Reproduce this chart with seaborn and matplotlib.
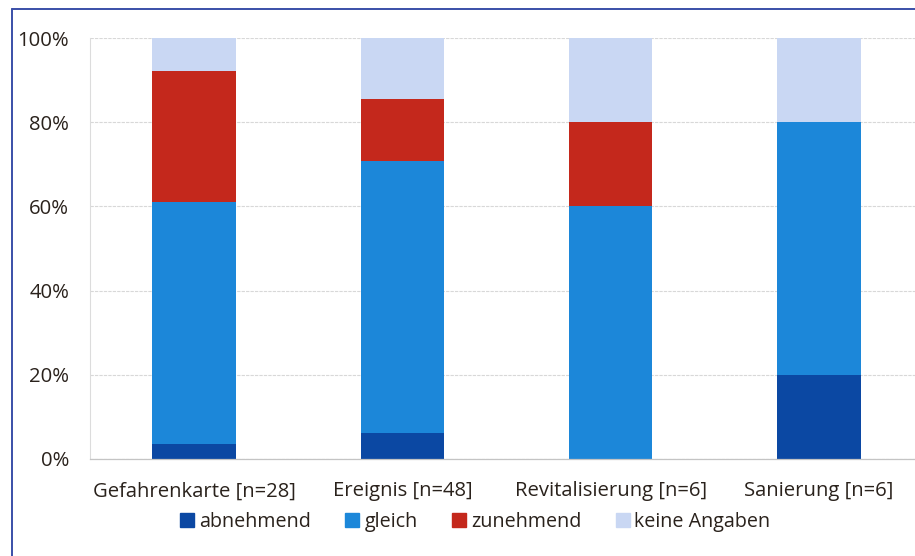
import numpy as np
import pandas as pd
import seaborn as sns
from matplotlib import pyplot as plt
from matplotlib.lines import Line2D
from matplotlib.ticker import PercentFormatter, FixedLocator

CATEGORIES = [
    "Gefahrenkarte [n=28]",
    "Ereignis [n=48]",
    "Revitalisierung [n=6]",
    "Sanierung [n=6]",
]
SERIES = ["abnehmend", "gleich", "zunehmend", "keine Angaben"]
ABNEHMEND = [3.6, 6.2, 0.0, 20.0]
GLEICH = [57.5, 64.6, 60.0, 60.0]
ZUNEHMEND = [31.0, 14.6, 20.0, 0.0]
KEINE_ANGABEN = [7.9, 14.6, 20.0, 20.0]
COLORS = ["#0b48a3", "#1c87d9", "#c4281c", "#c9d7f3"]


def main():
    sns.set_theme(style="white")
    plt.rcParams["font.family"] = ["Open Sans", "DejaVu Sans"]
    text_color = "#2a221c"

    df = pd.DataFrame(
        {
            "kategorie": CATEGORIES,
            "abnehmend": ABNEHMEND,
            "gleich": GLEICH,
            "zunehmend": ZUNEHMEND,
            "keine Angaben": KEINE_ANGABEN,
        }
    )

    fig = plt.figure(figsize=(9.15, 5.56), dpi=100)
    ax = fig.add_axes([90 / 915, 97 / 556, 825 / 915, 421 / 556])

    bottom = np.zeros(len(df))
    for name, color in zip(SERIES, COLORS):
        sns.barplot(
            data=df,
            x="kategorie",
            y=name,
            color=color,
            width=0.4,
            bottom=bottom,
            saturation=1,
            ax=ax,
            linewidth=0,
        )
        bottom = bottom + df[name].to_numpy()

    ax.set_xlim(-0.5, (915 - 195) / 208)
    ax.set_ylim(0, 100)
    ax.yaxis.set_major_locator(FixedLocator([0, 20, 40, 60, 80, 100]))
    ax.yaxis.set_major_formatter(PercentFormatter(decimals=0))
    ax.grid(axis="y", color="#d8d8d8", linewidth=0.8, linestyle=(0, (3, 1)))
    ax.set_axisbelow(True)
    ax.set_xlabel("")
    ax.set_ylabel("")

    for side in ["top", "right"]:
        ax.spines[side].set_visible(False)
    ax.spines["left"].set_color("#dcdcdc")
    ax.spines["left"].set_linewidth(0.8)
    ax.spines["bottom"].set_color("#c4c4c4")
    ax.spines["bottom"].set_linewidth(0.9)

    ax.tick_params(axis="x", which="major", length=0, pad=16, labelsize=14.6,
                   labelcolor=text_color)
    ax.set_xticks([-0.5, 0.5, 1.5, 2.5], minor=True)
    ax.tick_params(axis="x", which="minor", length=6, color="#d4d4d4", width=0.8)
    ax.tick_params(axis="y", length=5, color="#d4d4d4", width=0.8, pad=10,
                   labelsize=14.6, labelcolor=text_color)

    handles = [
        Line2D([], [], marker="s", linestyle="", markersize=10,
               markerfacecolor=c, markeredgecolor=c)
        for c in COLORS
    ]
    fig.legend(
        handles,
        SERIES,
        loc="center",
        bbox_to_anchor=(474 / 915, 1 - 522 / 556),
        ncol=4,
        frameon=False,
        fontsize=14.2,
        labelcolor=text_color,
        handletextpad=0.1,
        columnspacing=1.6,
        handlelength=1.0,
    )

    # blue frame of the original chart (cropped at right and bottom)
    fig.add_artist(Line2D([12 / 915, 12 / 915], [0, 1 - 9 / 556],
                          transform=fig.transFigure, color="#3a4fa8", linewidth=1.4))
    fig.add_artist(Line2D([12 / 915, 1], [1 - 9 / 556, 1 - 9 / 556],
                          transform=fig.transFigure, color="#3a4fa8", linewidth=1.4))

    fig.savefig("out.png", dpi=100)


if __name__ == "__main__":
    main()
